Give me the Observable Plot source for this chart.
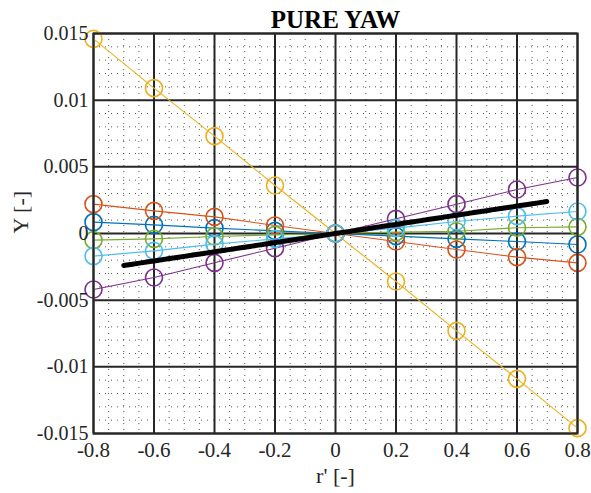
<!DOCTYPE html>
<html><head><meta charset="utf-8">
<script src="https://cdn.jsdelivr.net/npm/d3@7"></script>
<script src="https://cdn.jsdelivr.net/npm/@observablehq/plot@0.6"></script>
<style>body{margin:0;background:#fff} svg, svg text{font-family:"Liberation Serif","Times New Roman",serif !important}</style>
</head><body><div id="chart"></div>
<script>
const rValues = [-0.8, -0.6, -0.4, -0.2, 0, 0.2, 0.4, 0.6, 0.8];
const blueY   = [0.00085, 0.00065, 0.0004, 0.0002, 0, -0.0002, -0.0004, -0.0006, -0.00082];
const orangeY = [0.0022, 0.0017, 0.00125, 0.0006, 0, -0.0006, -0.0012, -0.00177, -0.0022];
const yellowY = [0.0146, 0.0109, 0.0073, 0.0036, 0, -0.0036, -0.0073, -0.0109, -0.0146];
const purpleY = [-0.0042, -0.0033, -0.0022, -0.0011, 0, 0.0011, 0.0022, 0.0033, 0.0042];
const greenY  = [-0.0005, -0.0004, -0.00022, -0.0001, 0, 0.0001, 0.00017, 0.00043, 0.0005];
const cyanY   = [-0.0017, -0.0013, -0.0008, -0.0004, 0, 0.0004, 0.0009, 0.0013, 0.00165];
const blackX  = [-0.7, 0, 0.7];
const blackY  = [-0.0024, 0, 0.0024];
const xTicks = [-0.8, -0.6, -0.4, -0.2, 0, 0.2, 0.4, 0.6, 0.8];
const xTickLabels = ["-0.8", "-0.6", "-0.4", "-0.2", "0", "0.2", "0.4", "0.6", "0.8"];
const yTicks = [-0.015, -0.01, -0.005, 0, 0.005, 0.01, 0.015];
const yTickLabels = ["-0.015", "-0.01", "-0.005", "0", "0.005", "0.01", "0.015"];
const titleText = "PURE YAW";
const xLabel = "r' [-]";
const yLabel = "Y [-]";

const series = [
  {values: blueY, color: "#0072BD"},
  {values: orangeY, color: "#D95319"},
  {values: yellowY, color: "#EDB120"},
  {values: purpleY, color: "#7E2F8E"},
  {values: greenY, color: "#77AC30"},
  {values: cyanY, color: "#4DBEEE"}
];
const blackData = blackX.map((x, i) => ({x, y: blackY[i]}));

const isMajor = (v, ticks) => ticks.some(t => Math.abs(t - v) < 1e-9);
const minorX = d3.range(-16, 17).map(i => i * 0.05).filter(v => !isMajor(v, xTicks));
const minorY = d3.range(-15, 16).map(i => i * 0.001).filter(v => !isMajor(v, yTicks));
const serif = "Liberation Serif";

const marks = [
  Plot.gridX(minorX, {stroke: "#222", strokeOpacity: 0.75, strokeWidth: 1, strokeDasharray: "1,5"}),
  Plot.gridY(minorY, {stroke: "#222", strokeOpacity: 0.75, strokeWidth: 1, strokeDasharray: "1,5"}),
  Plot.gridX(xTicks, {stroke: "#262626", strokeOpacity: 1, strokeWidth: 2}),
  Plot.gridY(yTicks, {stroke: "#262626", strokeOpacity: 1, strokeWidth: 2}),
];
for (const s of series) {
  const data = rValues.map((r, i) => ({r, y: s.values[i]}));
  marks.push(Plot.line(data, {x: "r", y: "y", stroke: s.color, strokeWidth: 1.1}));
  marks.push(Plot.dot(data, {x: "r", y: "y", r: 8.5, stroke: s.color, fill: "none", strokeWidth: 1.6}));
}
marks.push(Plot.line(blackData, {x: "x", y: "y", stroke: "black", strokeWidth: 5, strokeDasharray: "3,0.6"}));
marks.push(Plot.frame({stroke: "#262626", strokeWidth: 2}));
marks.push(Plot.axisX(xTicks, {tickSize: 0, tickPadding: 9, fontSize: 21, fill: "#262626", label: null, fontFamily: serif,
  tickFormat: (d) => xTickLabels[xTicks.indexOf(d)]}));
marks.push(Plot.axisY(yTicks, {tickSize: 0, tickPadding: 5, fontSize: 20, fill: "#262626", label: null, fontFamily: serif,
  tickFormat: (d) => yTickLabels[yTicks.indexOf(d)]}));
marks.push(Plot.text([titleText], {frameAnchor: "top", lineAnchor: "bottom", dy: -6, fontWeight: "bold", fontSize: 25, fill: "black", fontFamily: serif}));
marks.push(Plot.text([xLabel], {frameAnchor: "bottom", dy: 49, fontSize: 22, fill: "#262626", fontFamily: serif}));
marks.push(Plot.text([yLabel], {frameAnchor: "left", dx: -73, rotate: -90, fontSize: 22, fill: "#262626", fontFamily: serif}));

const chart = Plot.plot({
  width: 591, height: 493,
  marginLeft: 93, marginRight: 14, marginTop: 33, marginBottom: 60,
  x: {domain: [-0.8, 0.8], axis: null},
  y: {domain: [-0.015, 0.015], axis: null},
  style: {background: "white"},
  marks
});
document.getElementById("chart").appendChild(chart);
</script>
</body></html>
